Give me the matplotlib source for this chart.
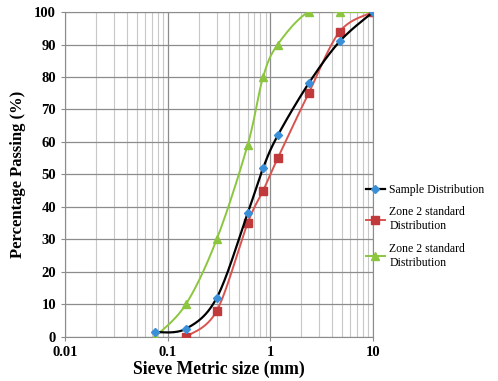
import numpy as np
import matplotlib.pyplot as plt
from matplotlib.ticker import FixedLocator, LogLocator, NullFormatter

sieve = [0.075, 0.15, 0.3, 0.6, 0.85, 1.18, 2.36, 4.75, 10]
sample = [1.5, 2.5, 12, 38, 52, 62, 78, 91, 100]
zone_sieve = [0.15, 0.3, 0.6, 0.85, 1.18, 2.36, 4.75, 10]
zone2_a = [0, 8, 35, 45, 55, 75, 94, 100]
zone2_b = [0, 10, 30, 59, 80, 90, 100, 100, 100]

serif = ['Liberation Serif', 'DejaVu Serif']


def smooth(xs, ys, n=30):
    # excel-like smoothed line, done in log-x space
    u = np.log10(xs) * 102.7
    v = np.asarray(ys, dtype=float) * 3.25
    pts = np.column_stack([u, v])
    out = []
    for i in range(len(pts) - 1):
        p0 = pts[i - 1] if i > 0 else pts[i]
        p1 = pts[i]
        p2 = pts[i + 1]
        p3 = pts[i + 2] if i + 2 < len(pts) else pts[i + 1]
        c1 = p1 + (p2 - p0) / 6
        c2 = p2 - (p3 - p1) / 6
        t = np.linspace(0, 1, n)[:, None]
        seg = ((1 - t) ** 3) * p1 + 3 * (1 - t) ** 2 * t * c1 + 3 * (1 - t) * t ** 2 * c2 + t ** 3 * p2
        out.append(seg)
    out = np.vstack(out)
    return 10 ** (out[:, 0] / 102.7), out[:, 1] / 3.25


fig = plt.figure(figsize=(4.98, 3.81), dpi=100)
ax = fig.add_axes([0.1305, 0.1155, 0.6185, 0.853])

ax.set_xscale('log')
ax.set_xlim(0.01, 10)
ax.set_ylim(0, 100)
ax.yaxis.set_major_locator(FixedLocator(range(0, 101, 10)))
ax.xaxis.set_major_locator(FixedLocator([0.01, 0.1, 1, 10]))
ax.xaxis.set_minor_locator(LogLocator(base=10, subs=range(2, 10)))
ax.xaxis.set_minor_formatter(NullFormatter())
ax.set_xticklabels(['0.01', '0.1', '1', '10'])

ax.grid(True, which='major', color='#8c8c8c', lw=0.9)
ax.grid(True, which='minor', axis='x', color='#c8c8c8', lw=0.8)
ax.set_axisbelow(True)
for s in ax.spines.values():
    s.set_color('#8c8c8c')
ax.tick_params(which='both', length=3, color='#8c8c8c')
ax.tick_params(which='minor', length=0)

green = '#8cc63f'
red = '#d9534f'

gx, gy = smooth(sieve, zone2_b)
ax.plot(gx, gy, color=green, lw=1.4, zorder=3)
ax.plot(sieve, zone2_b, ls='none', marker='^', ms=6, color=green, zorder=4)

rx, ry = smooth(zone_sieve, zone2_a)
ax.plot(rx, ry, color=red, lw=1.4, zorder=3)
ax.plot(zone_sieve, zone2_a, ls='none', marker='s', ms=6, mfc='#c0393b', mec='#c0393b', zorder=4)

bx, by = smooth(sieve, sample)
ax.plot(bx, by, color='black', lw=1.6, zorder=5)
ax.plot(sieve, sample, ls='none', marker='D', ms=4, color='#3a8fd9', zorder=6)

for lab in ax.get_xticklabels() + ax.get_yticklabels():
    lab.set_family(serif)
    lab.set_fontweight('bold')
    lab.set_fontsize(10.5)

ax.set_xlabel('Sieve Metric size (mm)', family=serif, fontweight='bold', fontsize=12.7, labelpad=1)
ax.set_ylabel('Percentage Passing (%)', family=serif, fontweight='bold', fontsize=12, labelpad=6)

h1, = ax.plot([], [], color='black', lw=1.6, marker='D', ms=4, mfc='#3a8fd9', mec='#3a8fd9')
h2, = ax.plot([], [], color=red, lw=1.4, marker='s', ms=6, mfc='#c0393b', mec='#c0393b')
h3, = ax.plot([], [], color=green, lw=1.4, marker='^', ms=6)
fig.legend([h1, h2, h3],
           ['Sample Distribution', 'Zone 2 standard\nDistribution', 'Zone 2 standard\nDistribution'],
           loc='upper left', bbox_to_anchor=(0.725, 0.53), frameon=False,
           prop={'family': serif, 'size': 8.5}, handlelength=1.6, handletextpad=0.4,
           labelspacing=0.9, borderaxespad=0)

fig.savefig('out.png', dpi=100)
